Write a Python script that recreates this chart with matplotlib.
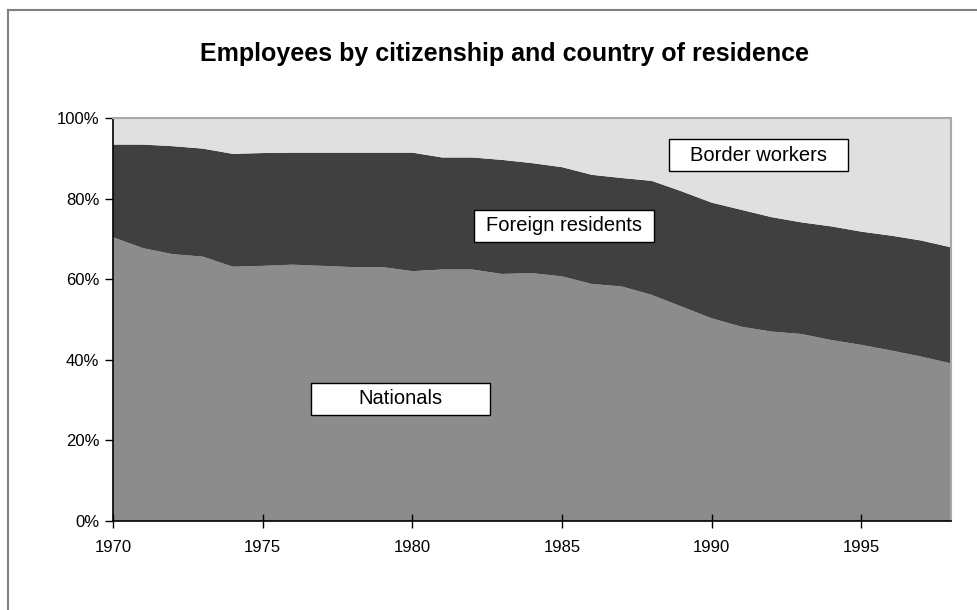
import matplotlib.pyplot as plt
from matplotlib.lines import Line2D
from matplotlib.patches import Rectangle

plt.rcParams['font.family'] = ['Liberation Sans', 'DejaVu Sans']

years = list(range(1970, 1999))
# shares of employees, in %
nationals = [70.4, 67.7, 66.2, 65.6, 63.1, 63.3, 63.6, 63.3, 63.0, 63.0,
             62.0, 62.4, 62.4, 61.3, 61.5, 60.7, 58.8, 58.2, 56.1, 53.2,
             50.3, 48.2, 47.0, 46.4, 44.9, 43.7, 42.3, 40.8, 39.1]
foreign = [23.0, 25.7, 26.8, 26.8, 28.0, 28.0, 27.8, 28.1, 28.4, 28.4,
           29.4, 27.8, 27.8, 28.3, 27.3, 27.1, 27.1, 26.9, 28.3, 28.6,
           28.7, 29.0, 28.4, 27.7, 28.2, 28.1, 28.5, 28.8, 28.8]
border = [6.6, 6.6, 7.0, 7.6, 8.9, 8.7, 8.6, 8.6, 8.6, 8.6,
          8.6, 9.8, 9.8, 10.4, 11.2, 12.2, 14.1, 14.9, 15.6, 18.2,
          21.0, 22.8, 24.6, 25.9, 26.9, 28.2, 29.2, 30.4, 32.1]
labels = ['Nationals', 'Foreign residents', 'Border workers']
colors = ['#8c8c8c', '#404040', '#e0e0e0']

fig = plt.figure(figsize=(9.77, 6.10), dpi=100)
ax = fig.add_axes([0.1157, 0.1459, 0.8577, 0.6607])

ax.stackplot(years, nationals, foreign, border, colors=colors, linewidth=0)

ax.set_xlim(1970, 1998)
ax.set_ylim(0, 100)
ax.set_xticks(range(1970, 1996, 5))
ax.set_yticks(range(0, 101, 20))
ax.set_yticklabels([f'{v}%' for v in range(0, 101, 20)])
ax.tick_params(axis='y', direction='out', length=6, width=1, pad=4, labelsize=12)
ax.tick_params(axis='x', direction='inout', length=10, width=1, pad=9, labelsize=12)

for s in ['left', 'bottom']:
    ax.spines[s].set_color('black')
    ax.spines[s].set_linewidth(1.2)
for s in ['top', 'right']:
    ax.spines[s].set_color('#a8a8a8')
    ax.spines[s].set_linewidth(1.5)

# label boxes (axes fraction)
boxes = [(0.236, 0.263, 'Nationals'),
         (0.431, 0.692, 'Foreign residents'),
         (0.663, 0.868, 'Border workers')]
for x0, y0, txt in boxes:
    ax.add_patch(Rectangle((x0, y0), 0.214, 0.08, transform=ax.transAxes,
                           facecolor='white', edgecolor='black', linewidth=1, zorder=5))
    ax.text(x0 + 0.107, y0 + 0.04, txt, transform=ax.transAxes, ha='center',
            va='center', fontsize=14.5, zorder=6)

fig.text(504 / 977, 1 - 54 / 610, 'Employees by citizenship and country of residence',
         ha='center', va='center', fontsize=18, fontweight='bold')

# frame around the chart
fig.add_artist(Line2D([8 / 977, 8 / 977], [0, 1 - 10 / 610], transform=fig.transFigure,
                      color='#808080', linewidth=1.5))
fig.add_artist(Line2D([8 / 977, 1], [1 - 10 / 610, 1 - 10 / 610], transform=fig.transFigure,
                      color='#808080', linewidth=1.5))

fig.savefig('out.png', dpi=100)
